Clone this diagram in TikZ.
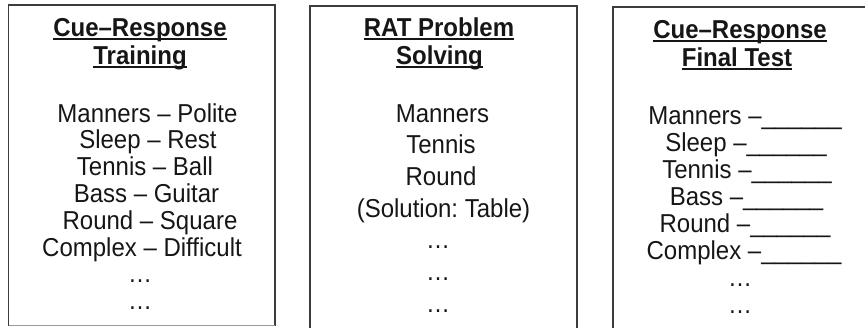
\documentclass[tikz,border=0pt]{standalone}
\usepackage{fontspec}
\setmainfont{Liberation Sans}
\frenchspacing
\definecolor{ink}{HTML}{161616}
\definecolor{frame}{HTML}{3C3C3C}
\definecolor{lightframe}{HTML}{9A9A9A}
\newcommand\hdul[1]{\leavevmode\setbox0\hbox{#1}\rlap{\color{ink}\rule[-3.8bp]{\wd0}{1.6bp}}\box0}
\newcommand\tall[1]{\scalebox{1}[1.08]{#1}}
\begin{document}
\begin{tikzpicture}[x=1bp,y=-1bp,
  txt/.style={font=\fontsize{24bp}{28bp}\selectfont, text=ink, anchor=base, inner sep=0pt},
  head/.style={txt, font=\fontsize{24bp}{28bp}\selectfont\bfseries},
  panel/.style={draw=frame, line width=1.5bp}]
\useasboundingbox (0,0) rectangle (865,327);
\clip (0,0) rectangle (865,327);
% panels
\draw[panel] (8.5,325.5) -- (8.5,5) -- (275,5) -- (275,325.5);
\draw[draw=lightframe, line width=1.5bp] (8.5,325.5) -- (275,325.5);
\draw[panel] (310,335) -- (310,6) -- (577,6) -- (577,335);
\draw[panel] (613,335) -- (613,7) -- (870,7) -- (870,335);
% headings
\node[head] (h1a) at (140,36) {\tall{\hdul{Cue–Response}}};
\node[head] (h1b) at (140,64) {\tall{\hdul{Training}}};
\node[head] (h2a) at (439,36) {\tall{\hdul{RAT Problem}}};
\node[head] (h2b) at (439.5,64) {\tall{\hdul{Solving}}};
\node[head] (h3a) at (740,38) {\tall{\hdul{Cue–Response}}};
\node[head] (h3b) at (737,66) {\tall{\hdul{Final Test}}};
% panel 1 body
\foreach \t/\x [count=\i] in {Manners – Polite/147.5, Sleep – Rest/148, Tennis – Ball/145, Bass – Guitar/146.5, Round – Square/150, Complex – Difficult/142, …/140, …/140}
  \node[txt, name=a\i] at (\x,{122+26.8*(\i-1)}) {\tall{\t}};
% panel 2 body
\foreach \t/\x [count=\i] in {Manners/442.5, Tennis/441, Round/441, {(Solution: Table)}/443.5, …/438, …/438, …/438}
  \node[txt, name=b\i] at (\x,{122+31.7*(\i-1)}) {\tall{\t}};
% panel 3 body
\foreach \t/\x [count=\i] in {Manners/745, Sleep/746, Tennis/747, Bass/746.5, Round/745, Complex/744}
  \node[txt, name=c\i] at (\x,{124+27*(\i-1)}) {\tall{\t\ –\_\_\_\_\_\_}};
\node[txt] (c7) at (740,{124+27*6}) {\tall{…}};
\node[txt] (c8) at (740,{124+27*7}) {\tall{…}};
\end{tikzpicture}
\end{document}
